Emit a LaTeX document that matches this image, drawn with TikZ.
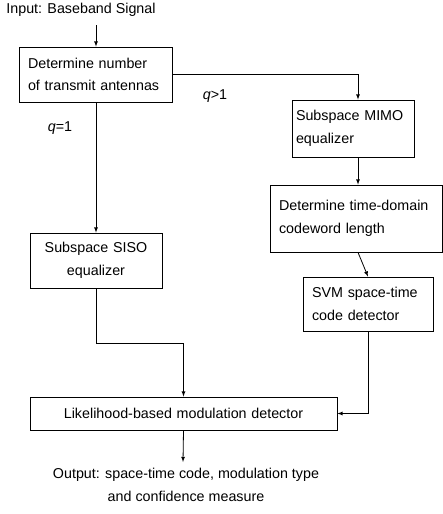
\documentclass[tikz,border=0pt]{standalone}
\usepackage{fontspec}
\setmainfont{Liberation Sans}
\usetikzlibrary{arrows, calc}

\tikzset{
  txt/.style={font=\fontsize{14.3}{22.5}\selectfont, inner sep=0pt},
  blk/.style={txt, draw, line width=0.8pt, inner xsep=9pt, minimum height=#1},
  flow/.style={line width=0.8pt, -latex}
}

\begin{document}
\begin{tikzpicture}[x=1pt,y=-1pt]
\useasboundingbox (0,0) rectangle (443,514);

\node[txt] (inp) at (81,10) {Input: Baseband Signal};
\coordinate (intop) at (96,25);

\node[blk=55, text width=135, align=left] (ntx) at (95.5,74.5) {Determine number\\of transmit antennas};
\node[blk=55, text width=114, align=center] (siso) at (96,260.5) {Subspace SISO\\equalizer};
\node[blk=57, text width=114, inner xsep=4pt, align=left] (mimo) at (353,128.5) {Subspace MIMO\\equalizer};
\node[blk=67, text width=154, align=left] (cwl) at (356,218.5) {Determine time-domain\\codeword length};
\node[blk=54, text width=112, align=left] (svm) at (368,304) {SVM space-time\\code detector};
\node[blk=33, text width=289, align=center] (lik) at (183.5,413.5) {Likelihood-based modulation detector};
\node[txt, align=center, anchor=north] (out) at (186,468) {Output: space-time code, modulation type\\and confidence measure};
\coordinate (outtop) at (183,462);

\node[txt] (qone) at (60,128) {\textit{q}=1};
\node[txt] (qmore) at (215,96) {\textit{q}>1};

\draw[flow] (intop) -- (ntx.north -| intop);
\draw[flow] (ntx.south -| intop) -- (siso.north -| intop);
\draw[flow] (ntx.east) -| ($(mimo.north)+(5,0)$);
\draw[flow] ($(mimo.south)+(5,0)$) -- ($(cwl.north)+(2,0)$);
\draw[flow] ($(cwl.south)+(2,0)$) -- (svm.north);
\draw[flow] (siso.south) -- ++(0,55) -| (lik.north);
\draw[flow] (svm.south) |- (lik.east);
\draw[flow] (lik.south) -- (outtop);

\end{tikzpicture}
\end{document}
